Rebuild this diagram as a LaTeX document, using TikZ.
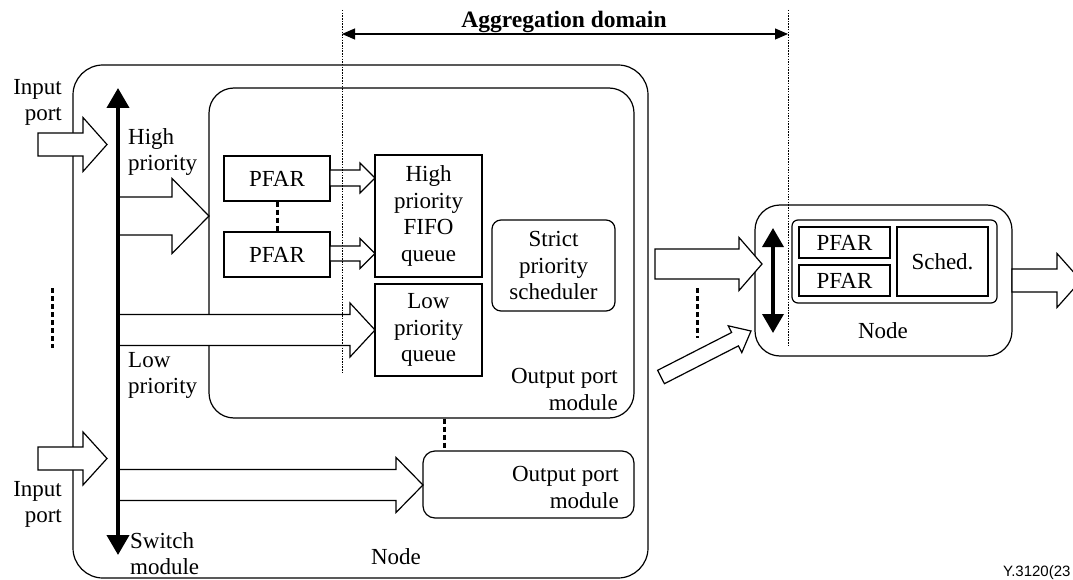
\documentclass[tikz,border=0pt]{standalone}
\usepackage{fontspec}
\setmainfont{Liberation Serif}
\newfontfamily\labelsans{Liberation Sans}
\usetikzlibrary{arrows.meta}
\tikzset{
  txt/.style={font=\fontsize{23}{26.7}\selectfont, inner sep=0pt, align=center},
  box/.style={draw, line width=1.2pt, inner sep=0pt, font=\fontsize{23}{26.7}\selectfont, align=center},
  rbox/.style={box, rounded corners=#1},
  barrow/.style={draw, line width=1.2pt, fill=white, line join=miter},
  dotline/.style={line width=1pt, dash pattern=on 1.5pt off 1.2pt},
  dashline/.style={line width=3pt, dash pattern=on 5pt off 3pt},
}
\newcommand{\blockarrow}[6]{% x0, xhead, xtip, ycenter, shaft half, head half
  \draw[barrow] ({#1},{#4-#5}) -- ({#2},{#4-#5}) -- ({#2},{#4-#6}) -- ({#3},{#4})
     -- ({#2},{#4+#6}) -- ({#2},{#4+#5}) -- ({#1},{#4+#5}) -- cycle;}
\begin{document}
\begin{tikzpicture}[x=1pt,y=-1pt]
\clip (0,0) rectangle (1073,580);
\fill[white] (0,0) rectangle (1073,580);

% outer node
\node[rbox=30pt, minimum width=575pt, minimum height=513pt] (outer) at (360.5,321.5) {};
\node[txt, anchor=north] (outerlbl) at (396,548) {Node};

% upper output port module
\node[rbox=25pt, minimum width=425pt, minimum height=330pt] (opm1) at (421.5,253) {};
\node[txt, anchor=north east, align=right] (opm1lbl) at (618,368) {Output port\\module};
\node[box, minimum width=106pt, minimum height=45pt] (pfar1) at (277,178.5) {PFAR};
\node[box, minimum width=106pt, minimum height=45pt] (pfar2) at (277,254.5) {PFAR};
\node[box, minimum width=107pt, minimum height=122pt] (fifo) at (428.5,216) {High\\priority\\FIFO\\queue};
\node[box, minimum width=107pt, minimum height=92pt] (lowq) at (428.5,330) {Low\\priority\\queue};
\node[rbox=9pt, minimum width=123pt, minimum height=91pt] (sps) at (553.5,265.5) {Strict\\priority\\scheduler};

% lower output port module
\node[rbox=12pt, minimum width=211pt, minimum height=67pt] (opm2) at (528.5,484.5) {};
\node[txt, anchor=north east, align=right] (opm2lbl) at (619,466) {Output port\\module};

% right node
\node[rbox=25pt, minimum width=257pt, minimum height=151pt] (rnode) at (883.5,280.5) {};
\node[rbox=6pt, minimum width=205pt, minimum height=83pt] (rinner) at (894.5,261.5) {};
\node[box, minimum width=91pt, minimum height=31pt] (rpfar1) at (844.5,242.5) {PFAR};
\node[box, minimum width=91pt, minimum height=31pt] (rpfar2) at (844.5,280.5) {PFAR};
\node[box, minimum width=91pt, minimum height=69pt] (rsched) at (942.5,261.5) {Sched.};
\node[txt, anchor=north] (rnodelbl) at (883,322) {Node};

% block arrows
\blockarrow{38}{83}{107}{144.5}{11.5}{27}
\blockarrow{38}{83}{107}{458.5}{11.5}{26.5}
\blockarrow{118}{172}{209}{216}{19}{37.5}
\blockarrow{118}{350}{375}{330}{15.5}{27}
\blockarrow{118}{396}{423}{485}{15.5}{27.5}
\blockarrow{330}{360}{375}{178}{8}{15}
\blockarrow{330}{360}{375}{253.5}{7.5}{15}
\blockarrow{655}{739}{762}{264}{15}{26.5}
\blockarrow{1012}{1057}{1081}{280.5}{11.5}{27}
\draw[barrow] (657.6,370.3) -- (731.6,332.5) -- (728.2,325.8) -- (751,331)
   -- (741.8,352.6) -- (738.4,345.9) -- (664.4,383.7) -- cycle;

% switch module
\coordinate (swtop) at (118,88);
\coordinate (swbot) at (118,555);
\draw[line width=4pt, {Triangle[width=22pt,length=20pt]}-{Triangle[width=22pt,length=20pt]}] (swtop) -- (swbot);
\coordinate (rswtop) at (773,228);
\coordinate (rswbot) at (773,333);
\draw[line width=3.5pt, {Triangle[width=21pt,length=19pt]}-{Triangle[width=21pt,length=19pt]}] (rswtop) -- (rswbot);

% aggregation domain
\coordinate (adl) at (342,10);
\coordinate (adlb) at (342,374);
\coordinate (adr) at (788,10);
\coordinate (adrb) at (788,345);
\draw[dotline] (adl) -- (adlb);
\draw[dotline] (adr) -- (adrb);
\coordinate (aggl) at (342,34);
\coordinate (aggr) at (788,34);
\draw[line width=1.1pt, {Triangle[width=11pt,length=13pt]}-{Triangle[width=11pt,length=13pt]}] (aggl) -- (aggr);
\node[txt, font=\fontsize{23.5}{27}\selectfont\bfseries, anchor=base] (agglbl) at (564,28) {Aggregation domain};

% dashed continuation marks
\draw[dashline] (pfar1.south) -- (pfar2.north);
\draw[dashline] (opm1.south -| 444,0) -- (opm2.north -| 444,0);
\coordinate (ld1) at (52,288);
\coordinate (ld2) at (52,348);
\draw[dashline] (ld1) -- (ld2);
\coordinate (rd1) at (697,288);
\coordinate (rd2) at (697,338);
\draw[dashline] (rd1) -- (rd2);

% labels
\node[txt, anchor=north east, align=right] (in1) at (62,79) {Input\\port};
\node[txt, anchor=north east, align=right] (in2) at (62,481) {Input\\port};
\node[txt, anchor=north west, align=left] (hp) at (128,128) {High\\priority};
\node[txt, anchor=north west, align=left] (lp) at (128,352) {Low\\priority};
\node[txt, anchor=north west, align=left] (swl) at (130,532) {Switch\\module};
\node[inner sep=0pt, font=\labelsans\fontsize{15}{18}\selectfont, anchor=base west] (ref) at (1003,576) {Y.3120(23};
\end{tikzpicture}
\end{document}
